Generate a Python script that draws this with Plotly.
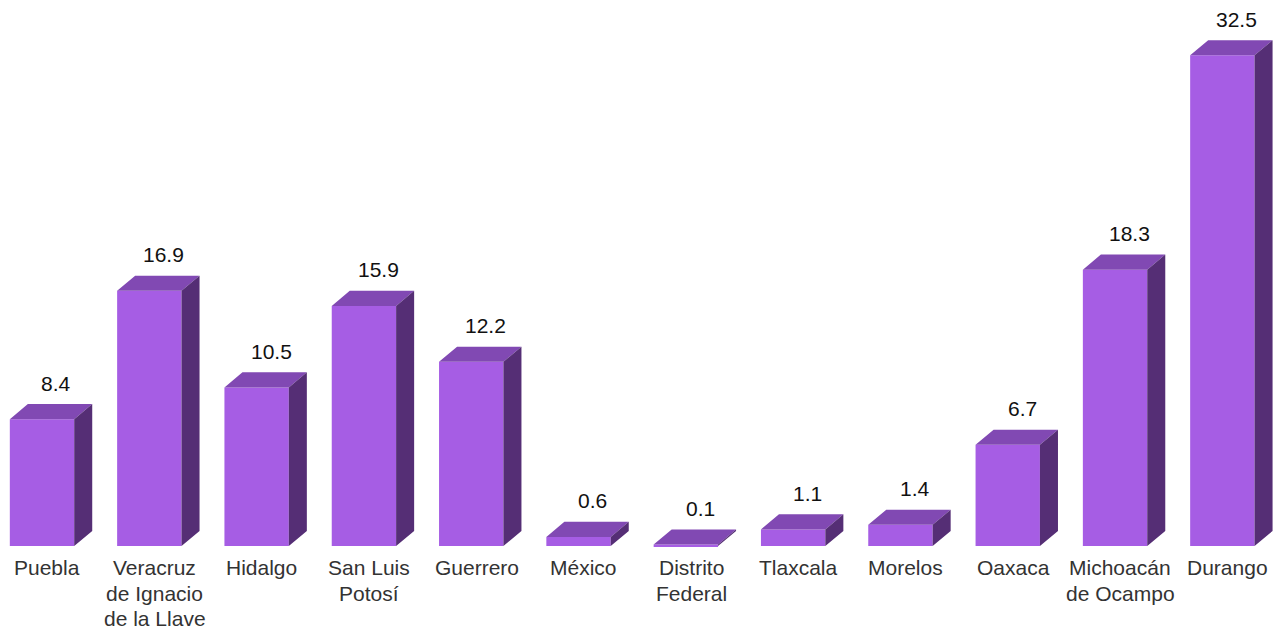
import plotly.graph_objects as go

categories = ["Puebla", "Veracruz<br>de Ignacio<br>de la Llave", "Hidalgo", "San Luis<br>Potosí",
              "Guerrero", "México", "Distrito<br>Federal", "Tlaxcala", "Morelos", "Oaxaca",
              "Michoacán<br>de Ocampo", "Durango"]
values = [8.4, 16.9, 10.5, 15.9, 12.2, 0.6, 0.1, 1.1, 1.4, 6.7, 18.3, 32.5]

FRONT = "#A65DE4"
TOP = "#8149B3"
SIDE = "#552E75"
W = 0.6      # bar width (category units)
DX = 0.168   # depth offset x (category units)
DY = 1.0     # depth offset y (value units)
FS = 21
LINE_H = 25.5

xs = list(range(len(values)))
fig = go.Figure()

fig.add_trace(go.Bar(x=xs, y=values, width=W, marker=dict(color=FRONT, line=dict(width=0)),
                     hoverinfo="skip"))

tx, ty, sx, sy = [], [], [], []
for x, v in zip(xs, values):
    l, r = x - W / 2, x + W / 2
    tx += [l, r, r + DX, l + DX, l, None]
    ty += [v, v, v + DY, v + DY, v, None]
    sx += [r, r + DX, r + DX, r, r, None]
    sy += [0, DY, v + DY, v, 0, None]

fig.add_trace(go.Scatter(x=tx, y=ty, fill="toself", fillcolor=TOP, mode="none", hoverinfo="skip"))
fig.add_trace(go.Scatter(x=sx, y=sy, fill="toself", fillcolor=SIDE, mode="none", hoverinfo="skip"))

for x, v, c in zip(xs, values, categories):
    fig.add_annotation(x=x + DX * 0.8, y=v + DY, text=f"{v:.1f}", showarrow=False,
                       yanchor="middle", yshift=21, font=dict(size=FS, color="#111111"))
    for i, line in enumerate(c.split("<br>")):
        fig.add_annotation(x=x + 0.05, y=0, text=line, showarrow=False, yanchor="top",
                           yshift=-8 - LINE_H * i, font=dict(size=FS, color="#333333"))

fig.update_layout(
    width=1287, height=628, margin=dict(l=0, r=0, t=0, b=0),
    paper_bgcolor="white", plot_bgcolor="white", showlegend=False,
    font=dict(family="Liberation Sans, Arial, sans-serif"),
    xaxis=dict(range=[-0.317, 11.677], visible=False, fixedrange=True),
    yaxis=dict(range=[-5.96, 35.63], visible=False, fixedrange=True),
)
fig.write_html("out.html")
